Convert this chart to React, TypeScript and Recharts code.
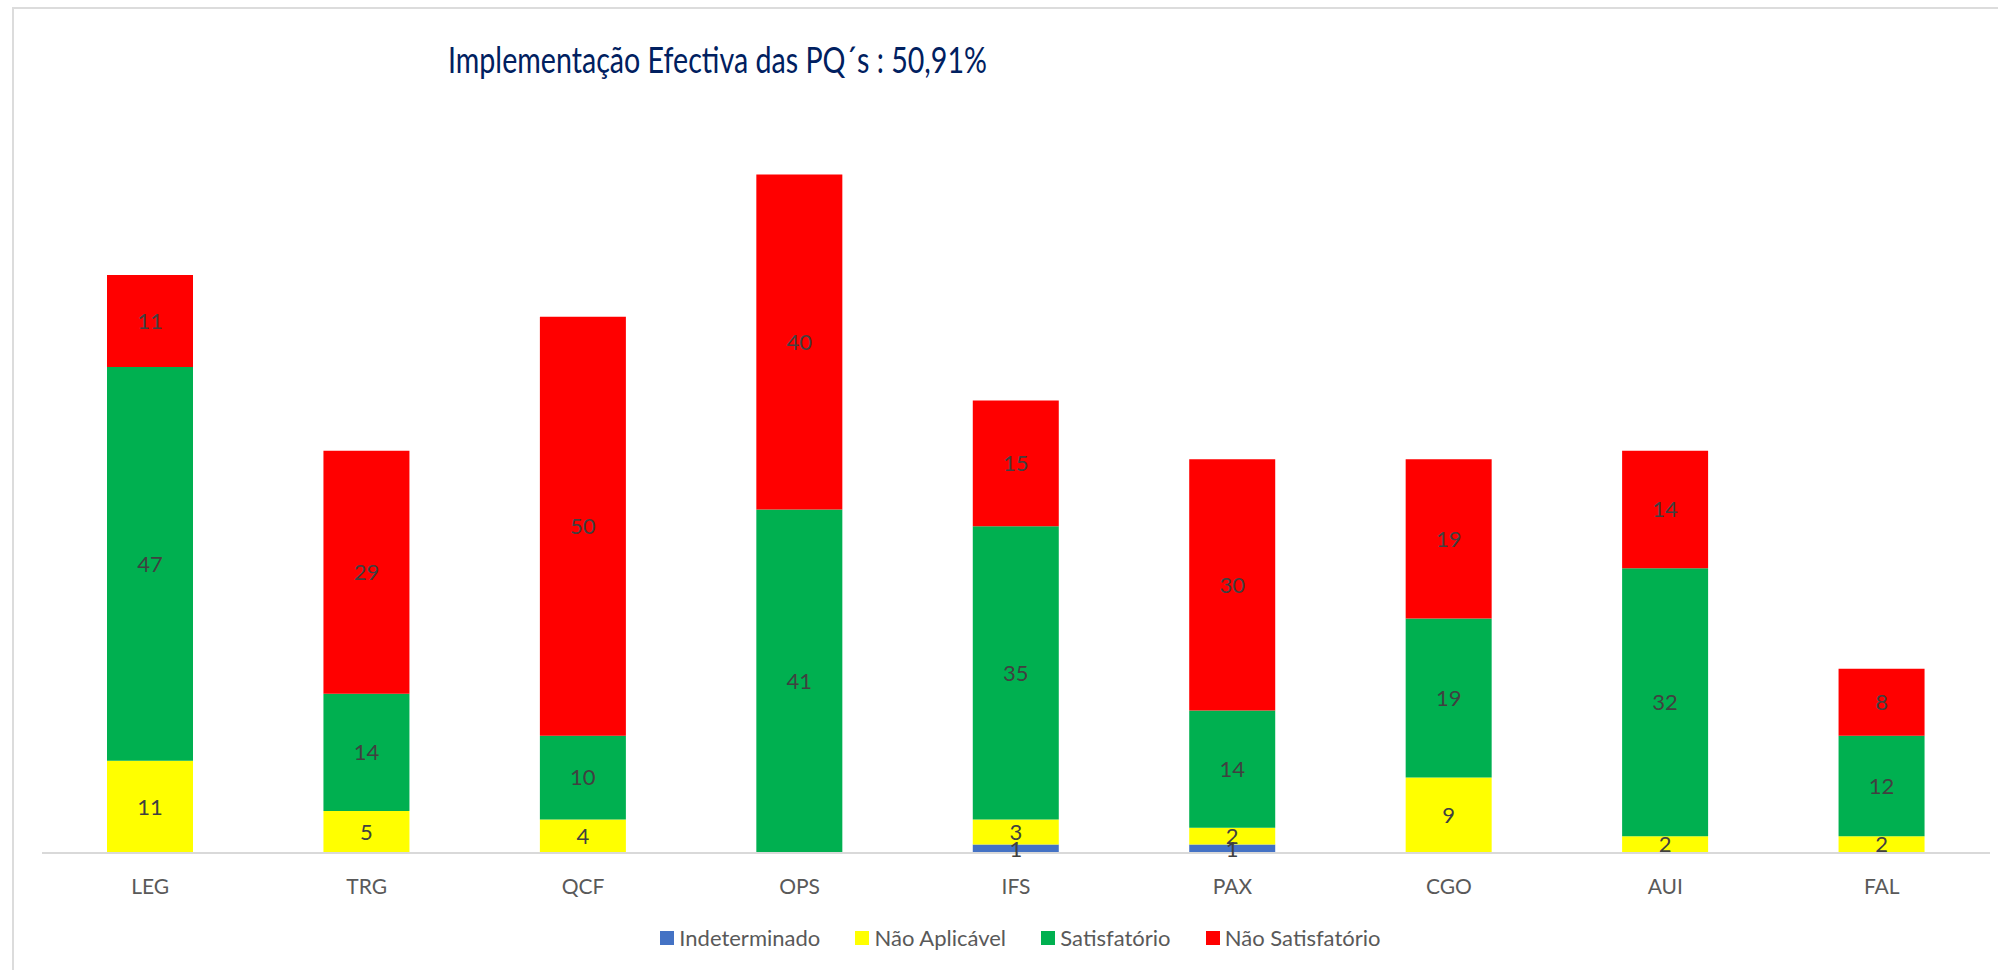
import React from 'react';
import { BarChart, Bar, XAxis, YAxis, LabelList } from 'recharts';

const categories = ['LEG', 'TRG', 'QCF', 'OPS', 'IFS', 'PAX', 'CGO', 'AUI', 'FAL'];
const indeterminado = [0, 0, 0, 0, 1, 1, 0, 0, 0];
const naoAplicavel = [11, 5, 4, 0, 3, 2, 9, 2, 2];
const satisfatorio = [47, 14, 10, 41, 35, 14, 19, 32, 12];
const naoSatisfatorio = [11, 29, 50, 40, 15, 30, 19, 14, 8];

const seriesNames = ['Indeterminado', 'Não Aplicável', 'Satisfatório', 'Não Satisfatório'];
const seriesKeys = ['ind', 'na', 'sat', 'ns'];
const seriesColors = ['#4472C4', '#FFFF00', '#00B050', '#FF0000'];
const seriesValues = [indeterminado, naoAplicavel, satisfatorio, naoSatisfatorio];

const title = 'Implementação Efectiva das PQ´s : 50,91%';

const data = categories.map((c, i) => {
  const row: Record<string, string | number> = { name: c };
  seriesKeys.forEach((k, s) => {
    row[k] = seriesValues[s][i];
  });
  return row;
});

const FONT = 'Lato, "Open Sans", sans-serif';

export default function App() {
  return (
    <div style={{ position: 'absolute', left: 0, top: 0, width: 1998, height: 970, background: '#fff', overflow: 'hidden' }}>
      <div
        style={{
          position: 'absolute',
          left: 11.5,
          top: 6.5,
          width: 2100,
          height: 1100,
          borderLeft: '2px solid #dcdcdc',
          borderTop: '2px solid #dcdcdc',
        }}
      />
      <div style={{ position: 'absolute', left: 0, top: 0 }}>
        <BarChart
          width={1998}
          height={970}
          data={data}
          margin={{ top: 99, right: 8, bottom: 87, left: 42 }}
          barSize={86}
        >
          <XAxis
            dataKey="name"
            height={30}
            tickLine={false}
            tickSize={6}
            tickMargin={20.5}
            axisLine={{ stroke: '#d9d9d9', strokeWidth: 2 }}
            tick={{ fill: '#595959', fontSize: 21, fontFamily: FONT }}
            interval={0}
          />
          <YAxis hide domain={[0, 90]} />
          {seriesKeys.map((k, s) => (
            <Bar key={k} dataKey={k} stackId="a" fill={seriesColors[s]} isAnimationActive={false}>
              <LabelList
                dataKey={k}
                position="center"
                fill="#404040"
                fontSize={22}
                fontFamily={FONT}
                formatter={(v: any) => (v ? v : '')}
              />
            </Bar>
          ))}
        </BarChart>
      </div>
      <svg style={{ position: 'absolute', left: 0, top: 0 }} width={1998} height={970}>
        <text
          transform="translate(448,72.7) scale(0.795,1)"
          x={0}
          y={0}
          fill="#002060"
          fontSize={36}
          fontFamily={FONT}
        >
          {title}
        </text>
      </svg>
      <div
        style={{
          position: 'absolute',
          left: 660,
          top: 927.2,
          display: 'flex',
          alignItems: 'center',
          whiteSpace: 'nowrap',
        }}
      >
        {seriesNames.map((n, s) => (
          <div key={n} style={{ display: 'flex', alignItems: 'center', marginRight: 35 }}>
            <div style={{ width: 14, height: 14, background: seriesColors[s], marginRight: 5.3 }} />
            <span style={{ fontFamily: FONT, fontSize: 22, lineHeight: '22px', color: '#595959' }}>{n}</span>
          </div>
        ))}
      </div>
    </div>
  );
}
